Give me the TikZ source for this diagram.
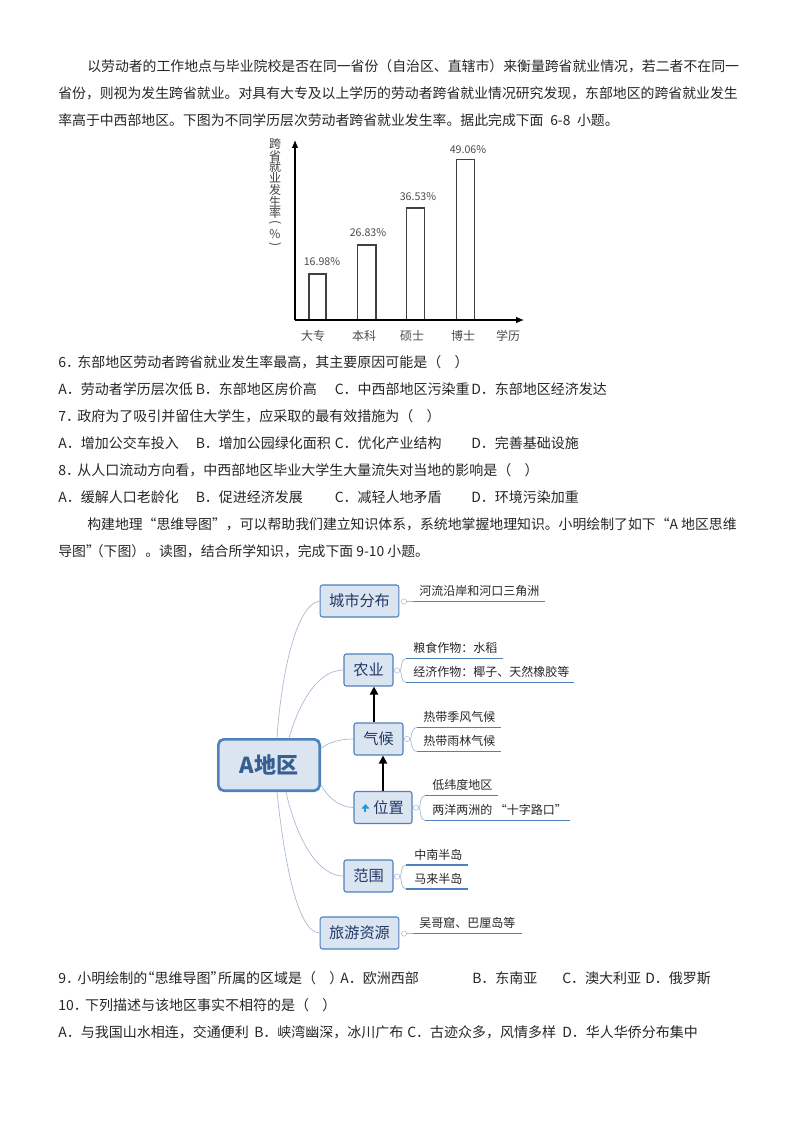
\documentclass[tikz,border=0pt]{standalone}
\usepackage{fontspec}
\usetikzlibrary{calc,arrows.meta}
\setmainfont{Noto Sans CJK SC}
\definecolor{bluefill}{HTML}{DBE5F1}
\definecolor{blueedge}{HTML}{4F81BD}
\definecolor{boxtext}{HTML}{1F3864}
\definecolor{linkcol}{HTML}{A6B8D4}
\definecolor{titlecol}{HTML}{365F91}
\definecolor{upcol}{HTML}{1E9BD7}
\tikzset{
  txt/.style={inner sep=0pt,anchor=west,text=black!85,font=\fontsize{10.4pt}{12pt}\selectfont},
  qtxt/.style={inner sep=0pt,anchor=west,text=black!85,font=\fontsize{10.5pt}{12pt}\selectfont},
  leaf/.style={inner sep=0pt,anchor=west,text=black!85,font=\fontsize{9pt}{11pt}\selectfont},
  chartlab/.style={inner sep=0pt,text=black!70,font=\fontsize{9pt}{11pt}\selectfont},
  chartnum/.style={inner sep=0pt,text=black!70,font=\fontsize{8pt}{10pt}\selectfont},
  ylab/.style={inner sep=0pt,text=black!75,font=\fontsize{9pt}{9pt}\selectfont},
  bar/.style={draw=black!75,fill=white,line width=0.8pt},
  axis/.style={draw=black,line width=0.8pt,-{Latex[length=6pt,width=5pt]}},
  mbox/.style={draw=blueedge,fill=bluefill,rounded corners=1.8pt,line width=0.8pt,inner sep=0pt,text=boxtext,font=\fontsize{11.4pt}{13pt}\selectfont},
  link/.style={draw=linkcol,line width=0.5pt},
  under/.style={draw=blueedge,line width=0.8pt},
  fold/.style={draw=linkcol,fill=white,circle,inner sep=0pt,minimum size=4pt,line width=0.4pt},
  causal/.style={draw=black,line width=1.6pt,-{Triangle[length=6pt,width=6pt]}},
}
\newcommand{\blank}{（\hspace{10pt}）}
\begin{document}
\begin{tikzpicture}[x=0.75pt,y=-0.75pt]
\useasboundingbox (0,0) rectangle (794,1123);
\fill[white] (0,0) rectangle (794,1123);

% top paragraph
\node[txt] (p1) at (87,66) {以劳动者的工作地点与毕业院校是否在同一省份（自治区、直辖市）来衡量跨省就业情况，若二者不在同一};
\node[txt] (p2) at (58,93) {省份，则视为发生跨省就业。对具有大专及以上学历的劳动者跨省就业情况研究发现，东部地区的跨省就业发生};
\node[txt] (p3) at (58,120) {率高于中西部地区。下图为不同学历层次劳动者跨省就业发生率。据此完成下面\hspace{5pt}6-8\hspace{5pt}小题。};

% chart
\coordinate (origin) at (295,320);
\coordinate (ytop) at (295,140);
\coordinate (xend) at (524,320);
\draw[bar] (309,320) rectangle (326,274);
\draw[bar] (357.5,320) rectangle (376,245);
\draw[bar] (406.5,320) rectangle (424.5,208);
\draw[bar] (456.5,320) rectangle (474.5,159.5);
\draw[axis] (origin) -- (ytop);
\draw[axis] (origin) -- (xend);
\node[chartnum] (v1) at (322,262) {16.98\%};
\node[chartnum] (v2) at (368,233) {26.83\%};
\node[chartnum] (v3) at (418,197) {36.53\%};
\node[chartnum] (v4) at (468,150) {49.06\%};
\node[chartlab] (c1) at (313,336) {大专};
\node[chartlab] (c2) at (364,336) {本科};
\node[chartlab] (c3) at (412,336) {硕士};
\node[chartlab] (c4) at (463,336) {博士};
\node[chartlab] (c5) at (508,336) {学历};
\node[ylab] (y1) at (275,144) {跨};
\node[ylab] (y2) at (275,156) {省};
\node[ylab] (y3) at (275,167) {就};
\node[ylab] (y4) at (275,178) {业};
\node[ylab] (y5) at (275,190) {发};
\node[ylab] (y6) at (275,202) {生};
\node[ylab] (y7) at (275,213) {率};
\node[ylab,rotate=-90] (y8) at (275,223) {(};
\node[ylab] (y9) at (275,234) {\%};
\node[ylab,rotate=-90] (y10) at (275,245) {)};

% questions 6-8
\node[qtxt] (q6) at (58,362) {6．\kern-2pt 东部地区劳动者跨省就业发生率最高，其主要原因可能是\blank};
\node[qtxt] (q6a) at (58,389) {A．劳动者学历层次低};
\node[qtxt] (q6b) at (195.5,389) {B．东部地区房价高};
\node[qtxt] (q6c) at (334.5,389) {C．中西部地区污染重};
\node[qtxt] (q6d) at (471,389) {D．东部地区经济发达};
\node[qtxt] (q7) at (58,416) {7．\kern-2pt 政府为了吸引并留住大学生，应采取的最有效措施为\blank};
\node[qtxt] (q7a) at (58,443) {A．增加公交车投入};
\node[qtxt] (q7b) at (195.5,443) {B．增加公园绿化面积};
\node[qtxt] (q7c) at (334.5,443) {C．优化产业结构};
\node[qtxt] (q7d) at (471,443) {D．完善基础设施};
\node[qtxt] (q8) at (58,470) {8．\kern-2pt 从人口流动方向看，中西部地区毕业大学生大量流失对当地的影响是\blank};
\node[qtxt] (q8a) at (58,497) {A．缓解人口老龄化};
\node[qtxt] (q8b) at (195.5,497) {B．促进经济发展};
\node[qtxt] (q8c) at (334.5,497) {C．减轻人地矛盾};
\node[qtxt] (q8d) at (471,497) {D．环境污染加重};
\node[txt] (p4) at (87,524) {构建地理“思维导图”，可以帮助我们建立知识体系，系统地掌握地理知识。小明绘制了如下“A 地区思维};
\node[txt] (p5) at (58,551) {导图”\kern-7.5pt（下图）。读图，结合所学知识，完成下面 9-10 小题。};

% mind map
\node[mbox,draw=blueedge,line width=2pt,rounded corners=4pt,minimum width=76pt,minimum height=38.5pt,text=titlecol,font=\fontsize{16.5pt}{18pt}\selectfont\bfseries] (root) at (269,765) {A地区};
\node[mbox,minimum width=59pt,minimum height=24pt] (city) at (359.5,601) {城市分布};
\node[mbox,minimum width=36.75pt,minimum height=24pt] (agri) at (368.5,670) {农业};
\node[mbox,minimum width=36.75pt,minimum height=24pt] (clim) at (378.5,739) {气候};
\node[mbox,minimum width=43.5pt,minimum height=24pt] (loc) at (383,807.5) {};
\node[mbox,draw=none,fill=none] (loctext) at (388.5,808) {位置};
\node[mbox,minimum width=36.75pt,minimum height=24pt] (rang) at (368.5,876) {范围};
\node[mbox,minimum width=59pt,minimum height=24pt] (tour) at (359.5,933) {旅游资源};
\draw[-{Triangle[length=3.5pt,width=6pt]},draw=upcol,line width=1.5pt] ($(loc.west)+(12,4.5)$) -- ($(loc.west)+(12,-3.5)$);

\coordinate (rt1) at ($(root.north)+(8,0)$);
\coordinate (rt2) at ($(root.north)+(20,0)$);
\coordinate (rb1) at ($(root.south)+(8,0)$);
\coordinate (rb2) at ($(root.south)+(17,0)$);
\coordinate (re1) at ($(root.east)+(0,-17)$);
\coordinate (re2) at ($(root.east)+(0,20)$);
\draw[link] (rt1) .. controls (280,690) and (293,605) .. (city.west);
\draw[link] (rt2) .. controls (297,710) and (315,670) .. (agri.west);
\draw[link] (re1) .. controls (330,742) and (340,739) .. (clim.west);
\draw[link] (re2) .. controls (328,797) and (338,807) .. (loc.west);
\draw[link] (rb2) .. controls (297,840) and (318,876) .. (rang.west);
\draw[link] (rb1) .. controls (283,850) and (296,933) .. (tour.west);

\draw[causal] ($(clim.north)+(-4.5,0)$) -- ($(agri.south)+(5.5,0)$);
\draw[causal] (loc.north) -- ($(clim.south)+(4.5,0)$);

% city
\node[fold] (fcity) at (404,601.5) {};
\coordinate (ucity0) at (413,601.5);\coordinate (ucity1) at (545,601.5);
\draw[link] (fcity) -- (ucity0);
\draw[under] (ucity0) -- (ucity1);
\node[leaf] (lcity) at (419,591) {河流沿岸和河口三角洲};
% agriculture
\node[fold] (fagri) at (397,670.5) {};
\coordinate (ua0) at (406,658.5);\coordinate (ua1) at (503,658.5);
\coordinate (ub0) at (406,682.5);\coordinate (ub1) at (574,682.5);
\draw[link] (fagri.east) .. controls (402,670) and (400,659) .. (ua0);
\draw[link] (fagri.east) .. controls (402,671) and (400,682) .. (ub0);
\draw[under] (ua0) -- (ua1);
\draw[under] (ub0) -- (ub1);
\node[leaf] (la) at (413,647.5) {粮食作物：水稻};
\node[leaf] (lb) at (413,672) {经济作物：椰子、天然橡胶等};
% climate
\node[fold] (fclim) at (407,739) {};
\coordinate (uc0) at (417,727.5);\coordinate (uc1) at (501,727.5);
\coordinate (ud0) at (417,751.5);\coordinate (ud1) at (501,751.5);
\draw[link] (fclim.east) .. controls (412,739) and (410,728) .. (uc0);
\draw[link] (fclim.east) .. controls (412,739) and (410,751) .. (ud0);
\draw[under] (uc0) -- (uc1);
\draw[under] (ud0) -- (ud1);
\node[leaf] (lc) at (423,717) {热带季风气候};
\node[leaf] (ld) at (423,741) {热带雨林气候};
% location
\node[fold] (floc) at (416,807.5) {};
\coordinate (ue0) at (425,795.7);\coordinate (ue1) at (498,795.7);
\coordinate (uf0) at (425,820.5);\coordinate (uf1) at (570,820.5);
\draw[link] (floc.east) .. controls (421,807) and (419,796) .. (ue0);
\draw[link] (floc.east) .. controls (421,808) and (419,820) .. (uf0);
\draw[under] (ue0) -- (ue1);
\draw[under] (uf0) -- (uf1);
\node[leaf] (le) at (432,785) {低纬度地区};
\node[leaf] (lf) at (432,809.5) {两洋两洲的 “十字路口”};
% range
\node[fold] (frang) at (397,876.5) {};
\coordinate (ug0) at (406,865);\coordinate (ug1) at (468,865);
\coordinate (uh0) at (406,889);\coordinate (uh1) at (468,889);
\draw[link] (frang.east) .. controls (402,876) and (400,865) .. (ug0);
\draw[link] (frang.east) .. controls (402,877) and (400,889) .. (uh0);
\draw[under] (ug0) -- (ug1);
\draw[under] (uh0) -- (uh1);
\node[leaf] (lg) at (414,854.5) {中南半岛};
\node[leaf] (lh) at (414,878.5) {马来半岛};
% tourism
\node[fold] (ftour) at (404,933.5) {};
\coordinate (ui0) at (413,933.5);\coordinate (ui1) at (522,933.5);
\draw[link] (ftour) -- (ui0);
\draw[under] (ui0) -- (ui1);
\node[leaf] (li) at (419,923) {吴哥窟、巴厘岛等};

% questions 9-10
\node[qtxt] (q9) at (58,978) {9．\kern-2pt 小明绘制的\kern-5pt“思维导图”\kern-5pt 所属的区域是\blank};
\node[qtxt] (q9a) at (340,978) {A．欧洲西部};
\node[qtxt] (q9b) at (472,978) {B．东南亚};
\node[qtxt] (q9c) at (562,978) {C．澳大利亚};
\node[qtxt] (q9d) at (645,978) {D．俄罗斯};
\node[qtxt] (q10) at (58,1005) {10．\kern-2pt 下列描述与该地区事实不相符的是\blank};
\node[qtxt] (q10a) at (58,1032) {A．与我国山水相连，交通便利};
\node[qtxt] (q10b) at (254,1032) {B．峡湾幽深，冰川广布};
\node[qtxt] (q10c) at (407,1032) {C．古迹众多，风情多样};
\node[qtxt] (q10d) at (562,1032) {D．华人华侨分布集中};
\end{tikzpicture}
\end{document}
